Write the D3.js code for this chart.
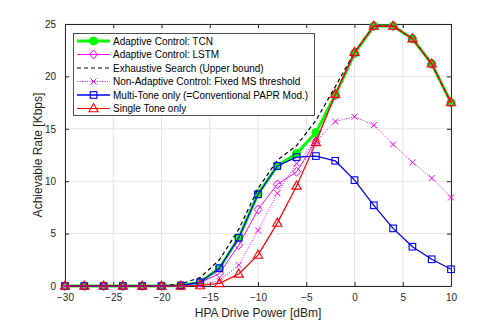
<!DOCTYPE html>
<html>
<head>
<meta charset="utf-8">
<script src="https://cdn.jsdelivr.net/npm/d3@7"></script>
<style>
  body { margin: 0; background: #fff; }
  text { font-family: "Liberation Sans", Arial, sans-serif; }
</style>
</head>
<body>
<svg id="chart"></svg>
<script>
// Data
const powerDbm = [-30, -28, -26, -24, -22, -20, -18, -16, -14, -12, -10, -8, -6, -4, -2, 0, 2, 4, 6, 8, 10];
const tcnRate = [0, 0, 0, 0, 0, 0, 0.05, 0.35, 1.7, 4.6, 8.8, 11.45, 12.65, 14.65, 18.2, 22.2, 24.8, 24.8, 23.6, 21.2, 17.5];
const lstmRate = [0, 0, 0, 0, 0, 0, 0.05, 0.3, 1.2, 3.9, 7.3, 9.7, 10.9, 13.8, 18.2, 22.2, 24.8, 24.8, 23.6, 21.2, 17.5];
const exhaustiveRate = [0, 0, 0, 0, 0, 0, 0.2, 0.8, 2.5, 5.4, 9.3, 12.0, 13.4, 15.8, 19.0, 22.3, 24.8, 24.8, 23.6, 21.2, 17.5];
const fixedMsRate = [0, 0, 0, 0, 0, 0, 0, 0.1, 0.5, 2.0, 5.3, 8.85, 11.7, 13.8, 15.7, 16.15, 15.35, 13.5, 11.8, 10.3, 8.45];
const multiToneRate = [0, 0, 0, 0, 0, 0, 0.05, 0.35, 1.7, 4.6, 8.75, 11.45, 12.3, 12.4, 11.95, 10.1, 7.7, 5.5, 3.75, 2.55, 1.6];
const singleToneRate = [0, 0, 0, 0, 0, 0, 0, 0.05, 0.25, 1.15, 2.95, 6.0, 9.55, 13.7, 18.3, 22.3, 24.8, 24.8, 23.6, 21.2, 17.5];
const xTicks = [-30, -25, -20, -15, -10, -5, 0, 5, 10];
const yTicks = [0, 5, 10, 15, 20, 25];

const series = [
  { name: "Adaptive Control: TCN", values: tcnRate, color: "#00ff00", width: 3, dash: null, marker: "circle" },
  { name: "Adaptive Control: LSTM", values: lstmRate, color: "#ff00ff", width: 1, dash: null, marker: "diamond" },
  { name: "Exhaustive Search (Upper bound)", values: exhaustiveRate, color: "#000000", width: 1.2, dash: "4,3", marker: null },
  { name: "Non-Adaptive Control: Fixed MS threshold", values: fixedMsRate, color: "#ff00ff", width: 1, dash: "1,1.5", marker: "x" },
  { name: "Multi-Tone only (=Conventional PAPR Mod.)", values: multiToneRate, color: "#0000ff", width: 1.3, dash: null, marker: "square" },
  { name: "Single Tone only", values: singleToneRate, color: "#ff0000", width: 1.2, dash: null, marker: "triangle" }
];

const width = 498, height = 322;
const margin = { left: 65, right: 47, top: 24, bottom: 36 };

const svg = d3.select("#chart").attr("width", width).attr("height", height);

const x = d3.scaleLinear().domain([-30, 10]).range([margin.left, width - margin.right]);
const y = d3.scaleLinear().domain([0, 25]).range([height - margin.bottom, margin.top]);

// grid
svg.append("g").selectAll("line").data(xTicks).join("line")
  .attr("x1", d => x(d)).attr("x2", d => x(d))
  .attr("y1", y(0)).attr("y2", y(25))
  .attr("stroke", "#e4e4e4").attr("stroke-width", 1);
svg.append("g").selectAll("line").data(yTicks).join("line")
  .attr("y1", d => y(d)).attr("y2", d => y(d))
  .attr("x1", x(-30)).attr("x2", x(10))
  .attr("stroke", "#e4e4e4").attr("stroke-width", 1);

// axes (ticks inward, box on)
const axisColor = "#262626";
const tickLen = 4;
const axBottom = svg.append("g").attr("transform", `translate(0,${y(0)})`)
  .call(d3.axisBottom(x).tickValues(xTicks).tickSizeInner(-tickLen).tickSizeOuter(0).tickPadding(8));
const axLeft = svg.append("g").attr("transform", `translate(${x(-30)},0)`)
  .call(d3.axisLeft(y).tickValues(yTicks).tickSizeInner(-tickLen).tickSizeOuter(0).tickPadding(9));
const axTop = svg.append("g").attr("transform", `translate(0,${y(25)})`)
  .call(d3.axisTop(x).tickValues(xTicks).tickSizeInner(-tickLen).tickSizeOuter(0).tickFormat(""));
const axRight = svg.append("g").attr("transform", `translate(${x(10)},0)`)
  .call(d3.axisRight(y).tickValues(yTicks).tickSizeInner(-tickLen).tickSizeOuter(0).tickFormat(""));
[axBottom, axLeft, axTop, axRight].forEach(g => {
  g.select(".domain").attr("stroke", axisColor);
  g.selectAll(".tick line").attr("stroke", axisColor);
  g.selectAll(".tick text").attr("fill", axisColor).style("font-size", "10px")
    .style("font-family", "'Liberation Sans', Arial, sans-serif");
});

// axis labels
svg.append("text")
  .attr("x", (x(-30) + x(10)) / 2).attr("y", 317)
  .attr("text-anchor", "middle").attr("fill", axisColor)
  .style("font-size", "12px").text("HPA Drive Power [dBm]");
svg.append("text")
  .attr("transform", `translate(42,${(y(0) + y(25)) / 2}) rotate(-90)`)
  .attr("text-anchor", "middle").attr("fill", axisColor)
  .style("font-size", "12px").text("Achievable Rate [Kbps]");

// marker drawing
function drawMarker(g, type, color) {
  if (type === "circle") {
    g.append("circle").attr("r", 4).attr("fill", color).attr("stroke", color).attr("stroke-width", 1);
  } else if (type === "diamond") {
    g.append("path").attr("d", "M0,-4.5L4,0L0,4.5L-4,0Z").attr("fill", "none").attr("stroke", color).attr("stroke-width", 1);
  } else if (type === "x") {
    g.append("path").attr("d", "M-3,-3L3,3M-3,3L3,-3").attr("fill", "none").attr("stroke", color).attr("stroke-width", 1);
  } else if (type === "square") {
    g.append("rect").attr("x", -3.3).attr("y", -3.3).attr("width", 6.6).attr("height", 6.6)
      .attr("fill", "none").attr("stroke", color).attr("stroke-width", 1.1);
  } else if (type === "triangle") {
    g.append("path").attr("d", "M0,-5L4.6,3.2L-4.6,3.2Z").attr("fill", "none").attr("stroke", color).attr("stroke-width", 1.1);
  }
}

const line = d3.line().x(d => x(d[0])).y(d => y(d[1]));

series.forEach(s => {
  const pts = powerDbm.map((p, i) => [p, s.values[i]]);
  svg.append("path").datum(pts)
    .attr("d", line)
    .attr("fill", "none")
    .attr("stroke", s.color)
    .attr("stroke-width", s.width)
    .attr("stroke-dasharray", s.dash)
    .attr("stroke-linejoin", "round");
  if (s.marker) {
    pts.forEach(d => {
      const g = svg.append("g").attr("transform", `translate(${x(d[0])},${y(d[1])})`);
      drawMarker(g, s.marker, s.color);
    });
  }
});

// legend
const legend = svg.append("g");
legend.append("rect")
  .attr("x", 73.5).attr("y", 33.5).attr("width", 241).attr("height", 82)
  .attr("fill", "#fff").attr("stroke", axisColor).attr("stroke-width", 0.8);
series.forEach((s, i) => {
  const cy = 41 + i * 13.5;
  legend.append("line")
    .attr("x1", 77).attr("x2", 110).attr("y1", cy).attr("y2", cy)
    .attr("stroke", s.color).attr("stroke-width", s.width)
    .attr("stroke-dasharray", s.dash);
  if (s.marker) {
    const g = legend.append("g").attr("transform", `translate(93.5,${cy})`);
    drawMarker(g, s.marker, s.color);
  }
  legend.append("text")
    .attr("x", 113).attr("y", cy + 3.5)
    .attr("fill", "#000").style("font-size", "10px")
    .text(s.name);
});
</script>
</body>
</html>
